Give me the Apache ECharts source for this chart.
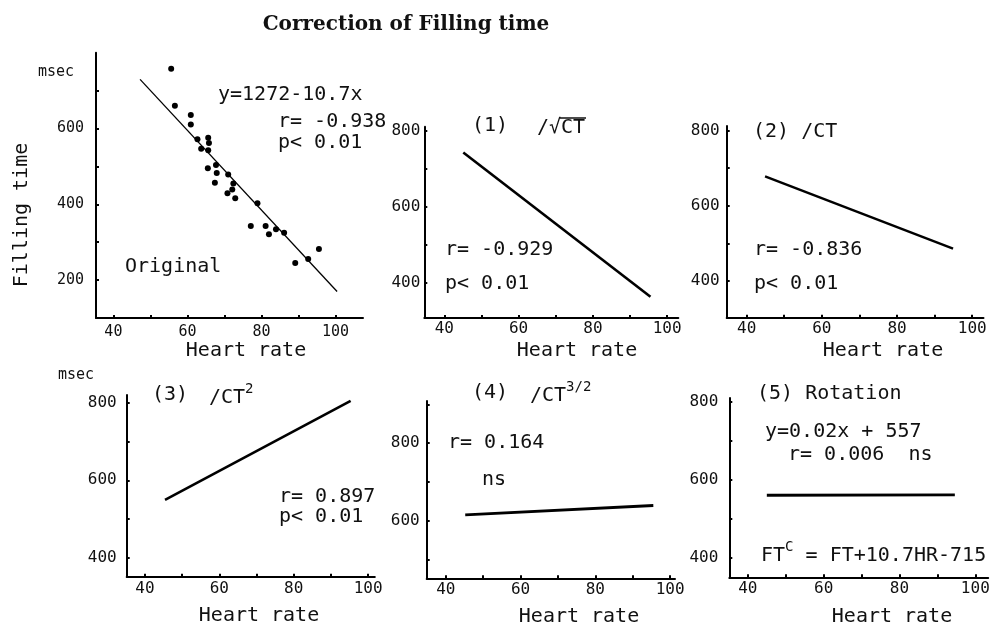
<!DOCTYPE html>
<html>
<head>
<meta charset="utf-8">
<script src="https://cdn.jsdelivr.net/npm/echarts@6/dist/echarts.min.js"></script>
<style>
html,body{margin:0;padding:0;background:#fff;}
#chart{width:996px;height:630px;}
</style>
</head>
<body>
<div id="chart"></div>
<script>
// ---------- data ----------
var title = 'Correction of Filling time';
var xTickValues = [40, 50, 60, 70, 80, 90, 100];
var xLabelValues = [40, 60, 80, 100];

// Original scatter: heart rate, filling time (msec)
var originalPoints = [
  [55.6, 758], [56.6, 660], [60.9, 636], [60.9, 611], [62.7, 572],
  [63.7, 547], [65.6, 576], [65.8, 562], [65.6, 543], [65.5, 495],
  [67.7, 504], [67.9, 483], [67.4, 457], [71.0, 479], [70.8, 429],
  [72.1, 439], [72.4, 455], [72.9, 416], [77.1, 343], [78.9, 403],
  [81.1, 343], [82.0, 321], [83.9, 334], [86.1, 325], [89.1, 245],
  [92.6, 256], [95.5, 282]
];
var originalFit = [[47.2, 730], [100.4, 170]];
var fitSqrtCT = [[45.1, 742], [95.5, 363]];
var fitCT = [[44.9, 678], [94.9, 486]];
var fitCT2 = [[45.4, 549], [95.3, 806]];
var fitCT32 = [[45.2, 615], [95.5, 639]];
var fitRotation = [[45.0, 561], [94.6, 562]];

var yTicks1 = [200, 300, 400, 500, 600, 700];
var yLabels1 = [200, 400, 600];
var yTicks2 = [400, 500, 600, 700, 800];
var yLabels2 = [400, 600, 800];
var yTicks5 = [500, 600, 700, 800, 900];
var yLabels5 = [600, 800];

// ---------- layout ----------
var MONO = 'DejaVu Sans Mono';
var panels = [
  {grid: {left: 96, top: 52.8, width: 267, height: 265.2}, x: [35.3, 107.4], y: [100, 800], yt: yTicks1, yl: yLabels1, fs: 15, xm: 7, ym: 12},
  {grid: {left: 424.3, top: 126.7, width: 254, height: 191.3}, x: [34.6, 103], y: [307, 810], yt: yTicks2, yl: yLabels2, fs: 16, xm: 3, ym: 4},
  {grid: {left: 726.7, top: 126, width: 256.8, height: 191.7}, x: [34.7, 103], y: [302, 812], yt: yTicks2, yl: yLabels2, fs: 16, xm: 3, ym: 7},
  {grid: {left: 126.7, top: 395, width: 248.1, height: 181.7}, x: [35.1, 101.8], y: [350, 821], yt: yTicks2, yl: yLabels2, fs: 16, xm: 4, ym: 10},
  {grid: {left: 426.7, top: 401, width: 248.3, height: 177.3}, x: [34.9, 101.3], y: [451, 909], yt: yTicks5, yl: yLabels5, fs: 16, xm: 4, ym: 7},
  {grid: {left: 729.3, top: 398, width: 258.9, height: 179.3}, x: [35.1, 103.4], y: [351, 810], yt: yTicks2, yl: yLabels2, fs: 16, xm: 4, ym: 11}
];

var grids = [], xAxes = [], yAxes = [];
panels.forEach(function (p, i) {
  grids.push(Object.assign({containLabel: false}, p.grid));
  var common = {
    type: 'value', gridIndex: i,
    axisLine: {show: true, onZero: false, lineStyle: {color: '#000', width: 2}},
    splitLine: {show: false}
  };
  xAxes.push(Object.assign({}, common, {
    min: p.x[0], max: p.x[1],
    axisTick: {show: true, inside: true, length: 3, customValues: xTickValues, lineStyle: {color: '#000', width: 2}},
    axisLabel: {customValues: xLabelValues, fontFamily: MONO, fontSize: p.fs, color: '#111', margin: p.xm}
  }));
  yAxes.push(Object.assign({}, common, {
    min: p.y[0], max: p.y[1],
    axisTick: {show: true, inside: true, length: 3, customValues: p.yt, lineStyle: {color: '#000', width: 2}},
    axisLabel: {customValues: p.yl, fontFamily: MONO, fontSize: p.fs, color: '#111', margin: p.ym}
  }));
});

function fitLine(data, idx, w) {
  return {type: 'line', xAxisIndex: idx, yAxisIndex: idx, data: data, showSymbol: false, symbol: 'none',
    lineStyle: {color: '#000', width: w}, silent: true, animation: false};
}

var series = [
  {type: 'scatter', xAxisIndex: 0, yAxisIndex: 0, data: originalPoints, symbolSize: 6,
   itemStyle: {color: '#000', opacity: 1}, animation: false},
  fitLine(originalFit, 0, 1.3),
  fitLine(fitSqrtCT, 1, 2.6),
  fitLine(fitCT, 2, 2.4),
  fitLine(fitCT2, 3, 2.6),
  fitLine(fitCT32, 4, 2.8),
  fitLine(fitRotation, 5, 2.8)
];

// ---------- texts ----------
function txt(s, x, y, size, align, extra) {
  var st = {text: s, x: 0, y: 0, font: (size || 20) + 'px "' + MONO + '"', fill: '#111',
    textAlign: align || 'left', textVerticalAlign: 'middle', verticalAlign: 'middle'};
  var o = {type: 'text', x: x, y: y, style: st, silent: true};
  if (extra) { Object.assign(st, extra.style || {}); if (extra.rotation) o.rotation = extra.rotation; }
  return o;
}
function richTxt(parts, x, y) {
  var s = parts.map(function (p) { return '{' + p[0] + '|' + p[1] + '}'; }).join('');
  return {type: 'text', x: x, y: y, silent: true, style: {
    text: s, x: 0, y: 0, textAlign: 'left', textVerticalAlign: 'middle', verticalAlign: 'middle',
    rich: {
      b: {fontFamily: MONO, fontSize: 20, color: '#111', fill: '#111', lineHeight: 26, verticalAlign: 'bottom'},
      s: {fontFamily: MONO, fontSize: 14, color: '#111', fill: '#111', lineHeight: 26, verticalAlign: 'top'}
    }
  }};
}

var graphics = [
  {type: 'text', x: 406, y: 25, silent: true, style: {text: title, x: 0, y: 0,
    font: 'bold 20px "DejaVu Serif"', fill: '#111', textAlign: 'center', textVerticalAlign: 'middle', verticalAlign: 'middle'}},
  txt('msec', 38, 72, 15),
  txt('Filling time', 22, 215, 20, 'center', {rotation: Math.PI / 2}),
  txt('y=1272-10.7x', 218, 95),
  txt('r= -0.938', 278, 122),
  txt('p< 0.01', 278, 143),
  txt('Original', 125, 267),
  txt('Heart rate', 246, 351, 20, 'center'),
  // panel (1)
  txt('(1)', 472, 126),
  txt('/\u221ACT', 537, 128),
  {type: 'line', silent: true, shape: {x1: 560, y1: 118, x2: 586, y2: 118}, style: {stroke: '#111', lineWidth: 1.5}},
  txt('r= -0.929', 445, 250),
  txt('p< 0.01', 445, 284),
  txt('Heart rate', 577, 351, 20, 'center'),
  // panel (2)
  txt('(2) /CT', 753, 132),
  txt('r= -0.836', 754, 250),
  txt('p< 0.01', 754, 284),
  txt('Heart rate', 883, 351, 20, 'center'),
  // panel (3)
  txt('msec', 58, 375, 15),
  txt('(3)', 152, 395),
  richTxt([['b', '/CT'], ['s', '2']], 209, 395),
  txt('r= 0.897', 279, 497),
  txt('p< 0.01', 279, 517),
  txt('Heart rate', 259, 616, 20, 'center'),
  // panel (4)
  txt('(4)', 472, 393),
  richTxt([['b', '/CT'], ['s', '3/2']], 530, 393),
  txt('r= 0.164', 448, 443),
  txt('ns', 482, 480),
  txt('Heart rate', 579, 617, 20, 'center'),
  // panel (5)
  txt('(5) Rotation', 757, 394),
  txt('y=0.02x + 557', 765, 432),
  txt('r= 0.006  ns', 788, 455),
  richTxt([['b', 'FT'], ['s', 'C'], ['b', ' = FT+10.7HR-715']], 761, 553),
  txt('Heart rate', 892, 617, 20, 'center')
];

var chart = echarts.init(document.getElementById('chart'), null, {renderer: 'canvas'});
chart.setOption({
  backgroundColor: '#fff',
  animation: false,
  grid: grids,
  xAxis: xAxes,
  yAxis: yAxes,
  series: series,
  graphic: graphics
});
</script>
</body>
</html>
